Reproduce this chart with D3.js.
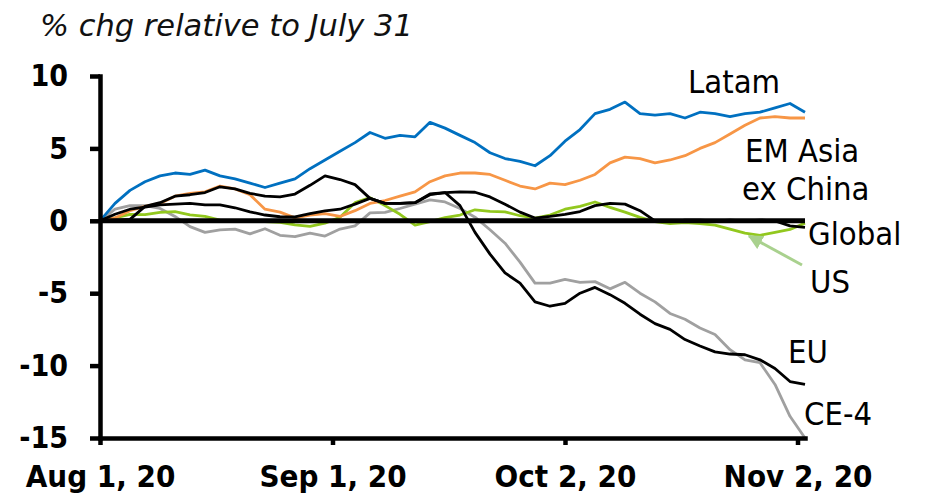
<!DOCTYPE html>
<html>
<head>
<meta charset="utf-8">
<script src="https://cdn.jsdelivr.net/npm/d3@7"></script>
<style>
  body { margin: 0; background: #fff; }
  svg { display: block; }
</style>
</head>
<body>
<svg width="928" height="501"></svg>
<script>
// dates (every second day, first point is the July 31 base = 0)
const dates = [
  "2020-08-01","2020-08-03","2020-08-05","2020-08-07","2020-08-09","2020-08-11","2020-08-13","2020-08-15",
  "2020-08-17","2020-08-19","2020-08-21","2020-08-23","2020-08-25","2020-08-27","2020-08-29","2020-08-31",
  "2020-09-02","2020-09-04","2020-09-06","2020-09-08","2020-09-10","2020-09-12","2020-09-14","2020-09-16",
  "2020-09-18","2020-09-20","2020-09-22","2020-09-24","2020-09-26","2020-09-28","2020-09-30","2020-10-02",
  "2020-10-04","2020-10-06","2020-10-08","2020-10-10","2020-10-12","2020-10-14","2020-10-16","2020-10-18",
  "2020-10-20","2020-10-22","2020-10-24","2020-10-26","2020-10-28","2020-10-30","2020-11-01","2020-11-03"
];

// % change relative to July 31
const latam = [0,1.2,2.1,2.7,3.1,3.3,3.2,3.5,3.1,2.9,2.6,2.3,2.6,2.9,3.6,4.2,
  4.8,5.4,6.1,5.7,5.9,5.8,6.8,6.4,5.9,5.4,4.7,4.3,4.1,3.8,4.5,5.5,
  6.3,7.4,7.7,8.2,7.4,7.3,7.4,7.1,7.5,7.4,7.2,7.4,7.5,7.8,8.1,7.5];
const emAsia = [0,0.2,0.7,1.0,1.2,1.7,1.9,2.0,2.4,2.2,1.8,0.8,0.6,0.2,0.4,0.5,
  0.3,0.7,1.2,1.4,1.7,2.0,2.7,3.1,3.3,3.3,3.2,2.8,2.4,2.2,2.6,2.5,
  2.8,3.2,4.0,4.4,4.3,4.0,4.2,4.5,5.0,5.4,6.0,6.6,7.1,7.2,7.1,7.1];
const us = [0,0.2,0.45,0.42,0.58,0.64,0.41,0.3,0.05,0,0,-0.05,-0.1,-0.28,-0.38,-0.16,
  0.25,1.25,1.6,1.05,0.45,-0.3,-0.05,0.22,0.4,0.76,0.65,0.62,0.35,0.19,0.4,0.8,
  1.0,1.3,0.93,0.6,0.24,-0.05,-0.2,-0.12,-0.2,-0.3,-0.58,-0.85,-1.0,-0.8,-0.6,-0.16];
const global = [0,0.45,0.8,0.95,1.1,1.15,1.2,1.1,1.1,0.9,0.62,0.4,0.28,0.27,0.5,0.68,
  0.8,1.15,1.55,1.2,1.2,1.25,1.8,1.95,2.0,1.97,1.65,1.15,0.6,0.19,0.3,0.45,
  0.64,1.05,1.2,1.15,0.7,0.0,-0.05,0.05,0.05,0.0,0.05,0.0,0.05,0.0,-0.35,-0.45];
const eu = [0,0.05,0.1,1.0,1.25,1.7,1.8,1.95,2.35,2.2,1.9,1.7,1.65,1.85,2.45,3.1,
  2.85,2.5,1.55,1.2,1.2,1.25,1.85,1.95,1.05,-0.8,-2.3,-3.6,-4.3,-5.6,-5.9,-5.7,
  -5.0,-4.6,-5.1,-5.7,-6.45,-7.1,-7.5,-8.2,-8.65,-9.05,-9.2,-9.25,-9.6,-10.2,-11.1,-11.3];
const ce4 = [0,0.8,1.05,1.05,0.85,0.3,-0.4,-0.8,-0.62,-0.58,-0.9,-0.55,-1.0,-1.1,-0.85,-1.05,
  -0.57,-0.35,0.55,0.58,0.85,1.15,1.45,1.3,0.85,0.25,-0.62,-1.55,-2.85,-4.3,-4.3,-4.05,
  -4.25,-4.2,-4.7,-4.25,-5.0,-5.6,-6.4,-6.8,-7.4,-7.85,-8.9,-9.6,-9.8,-11.3,-13.5,-15];

const yTicks = [-15, -10, -5, 0, 5, 10];
const xTicks = ["2020-08-01", "2020-09-01", "2020-10-02", "2020-11-02"];

const series = [
  { name: "CE-4", values: ce4, color: "#a0a0a0" },
  { name: "US", values: us, color: "#92c81e" },
  { name: "EM Asia ex China", values: emAsia, color: "#f79646" },
  { name: "Latam", values: latam, color: "#0070c0" },
  { name: "Global", values: global, color: "#000" },
  { name: "EU", values: eu, color: "#000" }
];

const parse = d3.timeParse("%Y-%m-%d");
const days = dates.map(parse);

const svg = d3.select("svg");
const font = "'DejaVu Sans Condensed', 'DejaVu Sans', sans-serif";

const x = d3.scaleTime()
  .domain([parse("2020-08-01"), parse("2020-11-03")])
  .range([100, 805]);

const y = d3.scaleLinear()
  .domain([-15, 10])
  .range([438, 76]);

// title
svg.append("text")
  .attr("x", 40)
  .attr("y", 36)
  .attr("font-family", "'DejaVu Sans', sans-serif")
  .attr("font-style", "italic")
  .attr("font-size", "30.5px")
  .attr("fill", "#111")
  .text("% chg relative to July 31");

// series lines
const line = d3.line()
  .x((d, i) => x(days[i]))
  .y(d => y(d));

series.forEach(s => {
  svg.append("path")
    .datum(s.values)
    .attr("d", line)
    .attr("fill", "none")
    .attr("stroke", s.color)
    .attr("stroke-width", 2.8)
    .attr("stroke-linejoin", "round");
});

// thick zero line
svg.append("line")
  .attr("x1", x.range()[0])
  .attr("x2", x.range()[1])
  .attr("y1", y(0))
  .attr("y2", y(0))
  .attr("stroke", "#000")
  .attr("stroke-width", 5);

// y axis (plain hyphen for negatives, like the original)
svg.append("g")
  .attr("transform", "translate(100,0)")
  .call(d3.axisLeft(y).tickValues(yTicks).tickSize(10).tickSizeOuter(0).tickPadding(22)
    .tickFormat(d => String(d)))
  .call(g => g.select(".domain").attr("stroke-width", 4.5).attr("stroke-linecap", "square"))
  .call(g => g.selectAll(".tick line").attr("stroke-width", 4.5))
  .call(g => g.selectAll(".tick text")
    .attr("font-family", font)
    .attr("font-weight", "bold")
    .attr("font-size", "30px")
    .attr("fill", "#000"));

// x axis
svg.append("g")
  .attr("transform", `translate(0,${y(-15)})`)
  .call(d3.axisBottom(x).tickValues(xTicks.map(parse)).tickSize(7).tickSizeOuter(0).tickPadding(20)
    .tickFormat(d3.timeFormat("%b %-d, %y")))
  .call(g => g.select(".domain").attr("stroke-width", 4.5).attr("stroke-linecap", "square"))
  .call(g => g.selectAll(".tick line").attr("stroke-width", 4.5))
  .call(g => g.selectAll(".tick text")
    .attr("font-family", font)
    .attr("font-weight", "bold")
    .attr("font-size", "31px")
    .attr("fill", "#000"));

// arrow pointing at the US line
svg.append("defs").append("marker")
  .attr("id", "arrow")
  .attr("viewBox", "0 0 10 10")
  .attr("refX", 9)
  .attr("refY", 5)
  .attr("markerWidth", 5)
  .attr("markerHeight", 5)
  .attr("orient", "auto")
  .append("path")
  .attr("d", "M 0 0 L 10 5 L 0 10 Z")
  .attr("fill", "#a9d18e");

svg.append("line")
  .attr("x1", 802)
  .attr("y1", 265)
  .attr("x2", 749)
  .attr("y2", 236)
  .attr("stroke", "#a9d18e")
  .attr("stroke-width", 3)
  .attr("marker-end", "url(#arrow)");

// series labels
const labels = [
  { text: "Latam", x: 688, y: 93 },
  { text: "EM Asia", x: 745, y: 162 },
  { text: "ex China", x: 742, y: 200 },
  { text: "Global", x: 808, y: 245 },
  { text: "US", x: 810, y: 293 },
  { text: "EU", x: 788, y: 363 },
  { text: "CE-4", x: 804, y: 425 }
];

svg.selectAll(".label")
  .data(labels)
  .join("text")
  .attr("class", "label")
  .attr("x", d => d.x)
  .attr("y", d => d.y)
  .attr("font-family", font)
  .attr("font-size", "32.5px")
  .attr("fill", "#000")
  .text(d => d.text);
</script>
</body>
</html>
